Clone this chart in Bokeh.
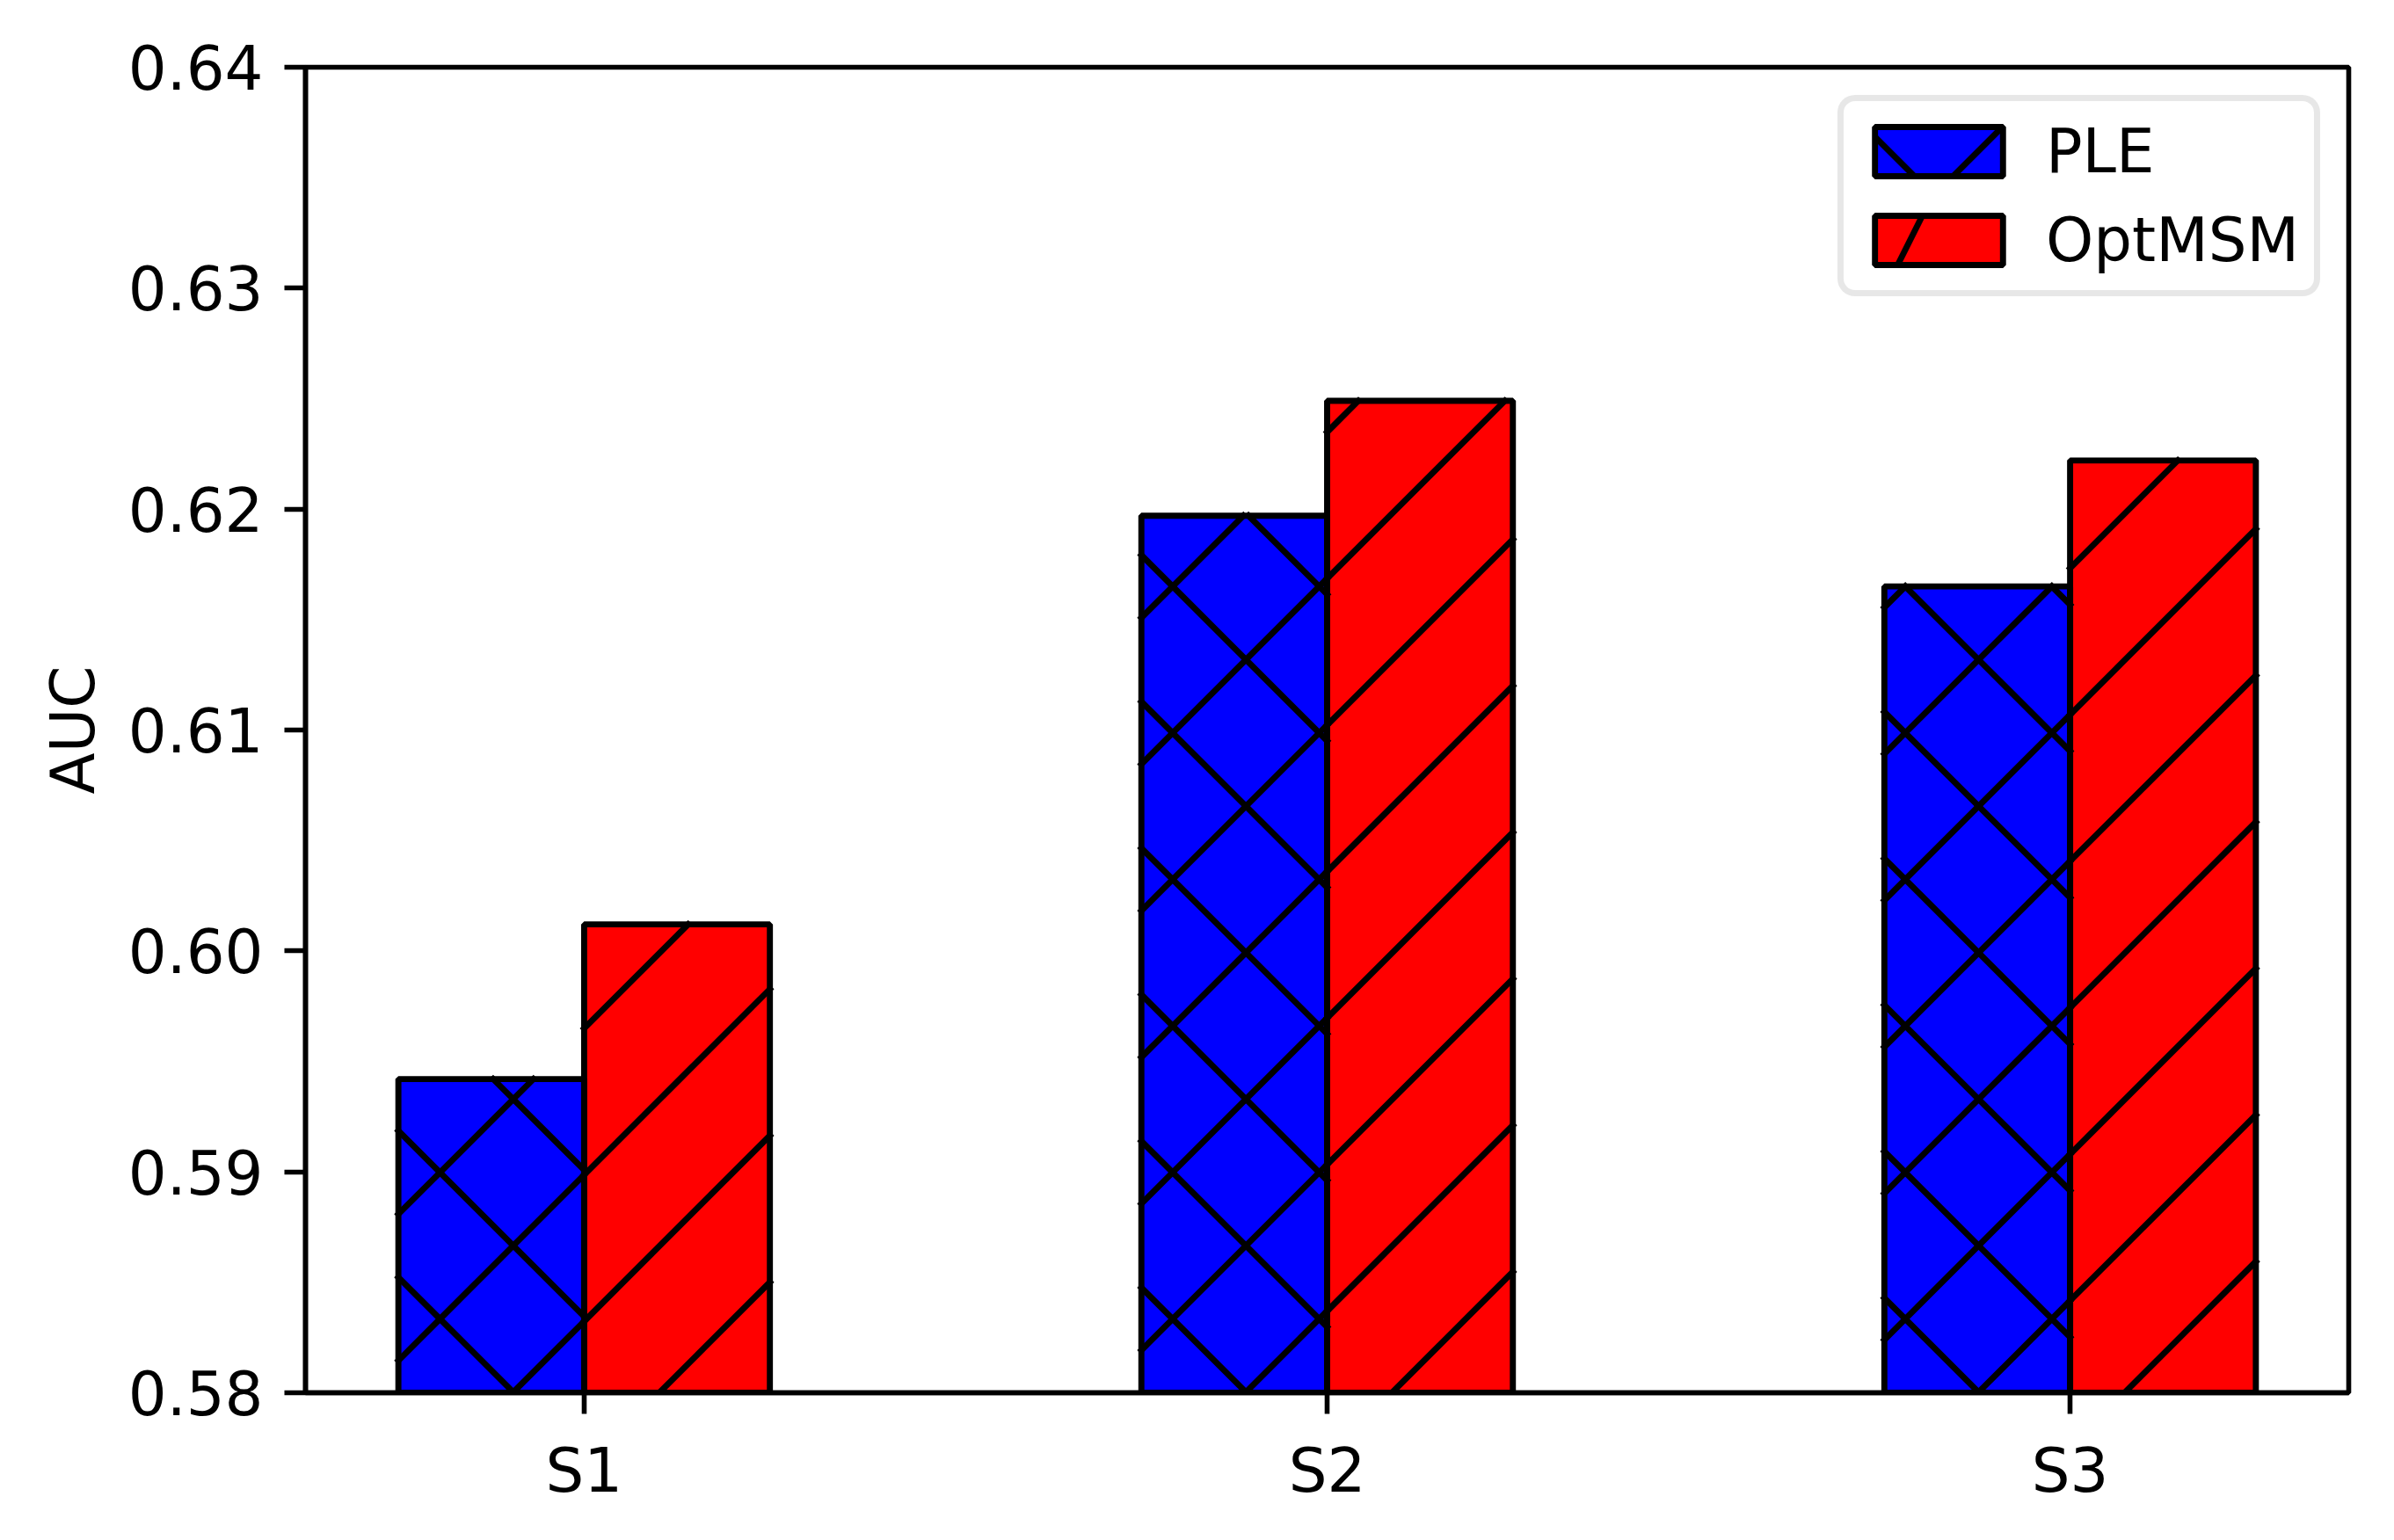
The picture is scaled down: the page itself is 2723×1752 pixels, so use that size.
import numpy as np
from bokeh.plotting import figure
from bokeh.models import (Range1d, FixedTicker, ColumnDataSource, Legend, LegendItem,
                          PrintfTickFormatter)
from bokeh.embed import file_html
from bokeh.resources import INLINE
from bokeh.transform import dodge

categories = ["S1", "S2", "S3"]
ple = [0.5942, 0.6197, 0.6165]
optmsm = [0.6012, 0.6249, 0.6222]
series_names = ["PLE", "OptMSM"]
y_ticks = [0.58, 0.59, 0.60, 0.61, 0.62, 0.63, 0.64]
y_label = "AUC"

x_pos = list(range(len(categories)))
src = ColumnDataSource(dict(x=x_pos, ple=ple, opt=optmsm))

FONT = "DejaVu Sans"
FS = "69px"
LW = 6.9
SPINE = 5.6
BAR_W = 0.25
OFF = 0.125

# layout (screen px)
FIG_W, FIG_H = 2715, 1744
BL, BR, BT, BB = 347, 44, 76, 160
XR = (-0.375, 2.375)
YR = (0.58, 0.64)
FW = FIG_W - BL - BR
FH = FIG_H - BT - BB
PERIOD = 500 / 3.0  # hatch spacing in px

def sx(x):
    return BL + (x - XR[0]) / (XR[1] - XR[0]) * FW

def sy(y):
    return BT + (YR[1] - y) / (YR[1] - YR[0]) * FH

def dx(px):
    return XR[0] + (px - BL) / FW * (XR[1] - XR[0])

def dy(py):
    return YR[1] - (py - BT) / FH * (YR[1] - YR[0])

def hatch_segments(centers, tops, ne=True, nw=False):
    x0s, y0s, x1s, y1s = [], [], [], []
    for xc, top in zip(centers, tops):
        xl, xr = sx(xc - BAR_W / 2), sx(xc + BAR_W / 2)
        yt, yb = sy(top), sy(YR[0])
        if ne:  # x + y = c
            for k in range(int(np.ceil((xl + yt) / PERIOD)), int(np.floor((xr + yb) / PERIOD)) + 1):
                c = k * PERIOD
                xa, xb = max(xl, c - yb), min(xr, c - yt)
                if xb > xa:
                    x0s.append(dx(xa)); y0s.append(dy(c - xa))
                    x1s.append(dx(xb)); y1s.append(dy(c - xb))
        if nw:  # y - x = c
            for k in range(int(np.ceil((yt - xr) / PERIOD)), int(np.floor((yb - xl) / PERIOD)) + 1):
                c = k * PERIOD
                xa, xb = max(xl, yt - c), min(xr, yb - c)
                if xb > xa:
                    x0s.append(dx(xa)); y0s.append(dy(xa + c))
                    x1s.append(dx(xb)); y1s.append(dy(xb + c))
    return dict(x0=x0s, y0=y0s, x1=x1s, y1=y1s)

p = figure(width=FIG_W, height=FIG_H, output_backend="svg", toolbar_location=None,
           x_range=Range1d(*XR), y_range=Range1d(*YR),
           min_border_left=BL, min_border_right=BR, min_border_top=BT,
           min_border_bottom=BB)
p.background_fill_color = "white"
p.border_fill_color = "white"
p.grid.visible = False
p.outline_line_color = "black"
p.outline_line_width = SPINE

# bar fills
p.vbar(x=dodge("x", -OFF), top="ple", bottom=0, width=BAR_W, source=src,
       fill_color="#0000ff", line_color=None)
p.vbar(x=dodge("x", OFF), top="opt", bottom=0, width=BAR_W, source=src,
       fill_color="#ff0000", line_color=None)

# hatching (matplotlib-like, 45 degrees)
ple_h = hatch_segments([x - OFF for x in x_pos], ple, ne=True, nw=True)
opt_h = hatch_segments([x + OFF for x in x_pos], optmsm, ne=True, nw=False)
for h in (ple_h, opt_h):
    p.segment(x0="x0", y0="y0", x1="x1", y1="y1", source=ColumnDataSource(h),
              line_color="black", line_width=LW, line_cap="square")

# bar edges on top
p.vbar(x=dodge("x", -OFF), top="ple", bottom=0, width=BAR_W, source=src,
       fill_color=None, line_color="black", line_width=LW)
p.vbar(x=dodge("x", OFF), top="opt", bottom=0, width=BAR_W, source=src,
       fill_color=None, line_color="black", line_width=LW)

# legend proxies (hidden in the plot, shown in the legend)
lg1 = p.vbar(x=dodge("x", -OFF), top="ple", bottom=0, width=BAR_W, source=src,
             fill_color="#0000ff", line_color="black", line_width=LW,
             hatch_pattern="x", hatch_color="black", hatch_weight=LW, hatch_scale=170,
             visible=False)
lg2 = p.vbar(x=dodge("x", OFF), top="opt", bottom=0, width=BAR_W, source=src,
             fill_color="#ff0000", line_color="black", line_width=LW,
             hatch_pattern="/", hatch_color="black", hatch_weight=LW, hatch_scale=300,
             visible=False)

for ax in (p.xaxis[0], p.yaxis[0]):
    ax.axis_line_width = SPINE
    ax.axis_line_color = "black"
    ax.major_tick_line_width = SPINE
    ax.major_tick_line_color = "black"
    ax.major_tick_out = 24
    ax.major_tick_in = 0
    ax.minor_tick_out = 0
    ax.minor_tick_in = 0
    ax.major_label_standoff = 24
    ax.major_label_text_font = FONT
    ax.major_label_text_font_size = FS
    ax.major_label_text_color = "black"
    ax.axis_label_text_font = FONT
    ax.axis_label_text_font_size = FS
    ax.axis_label_text_font_style = "normal"
    ax.axis_label_text_color = "black"

p.xaxis.ticker = FixedTicker(ticks=x_pos)
p.xaxis.major_label_overrides = {i: c for i, c in zip(x_pos, categories)}
p.yaxis.ticker = FixedTicker(ticks=y_ticks)
p.yaxis.formatter = PrintfTickFormatter(format="%.2f")
p.yaxis.axis_label = y_label
p.yaxis.axis_label_standoff = 20

legend = Legend(items=[LegendItem(label=series_names[0], renderers=[lg1]),
                       LegendItem(label=series_names[1], renderers=[lg2])],
                location="top_right")
legend.margin = 32
legend.padding = 17
legend.spacing = 21
legend.glyph_width = 182
legend.glyph_height = 70
legend.label_height = 70
legend.label_standoff = 31
legend.label_text_font = FONT
legend.label_text_font_size = FS
legend.label_text_color = "black"
legend.border_line_color = "#d0d0d0"
legend.border_line_width = 7
legend.background_fill_color = "white"
legend.background_fill_alpha = 0.8
legend.inactive_fill_alpha = 0.0
if "border_radius" in Legend.properties():
    legend.border_radius = 20
p.add_layout(legend)

open("out.html", "w").write(file_html(p, INLINE))
